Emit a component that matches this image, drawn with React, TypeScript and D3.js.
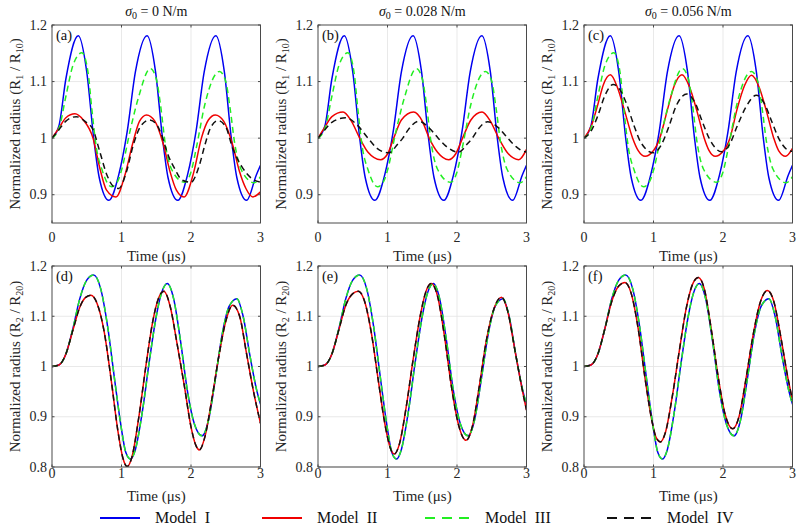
import React from 'react';
import * as d3 from 'd3';

// time axis ticks (µs) and y ticks per row
const T_TICKS = [0, 1, 2, 3];
const TOP_Y_TICKS = [0.9, 1, 1.1, 1.2];
const BOTTOM_Y_TICKS = [0.8, 0.9, 1, 1.1, 1.2];
const SIGMA_VALUES = ['0', '0.028', '0.056'];
const TOP_LABELS = ['(a)', '(b)', '(c)'];
const BOTTOM_LABELS = ['(d)', '(e)', '(f)'];
const MODEL_NAMES = ['Model  I', 'Model  II', 'Model  III', 'Model  IV'];

// R1/R10, Model I (same in a, b, c)
const r1ModelI: [number, number][] = [
  [0, 1.0], [0.1, 1.022], [0.2, 1.105], [0.378, 1.181], [0.5, 1.117], [0.6, 1.0], [0.68, 0.93],
  [0.818, 0.89], [0.96, 0.935], [1.08, 1.01], [1.2, 1.117], [1.368, 1.181], [1.49, 1.117],
  [1.59, 1.0], [1.67, 0.93], [1.81, 0.89], [1.95, 0.935], [2.07, 1.01], [2.19, 1.117],
  [2.358, 1.181], [2.48, 1.117], [2.58, 1.0], [2.66, 0.93], [2.8, 0.89], [2.94, 0.935], [3.0, 0.952],
];

// R1/R10, Model III (same in a, b, c)
const r1ModelIII: [number, number][] = [
  [0, 1.0], [0.1, 1.017], [0.2, 1.074], [0.3, 1.128], [0.43, 1.151], [0.52, 1.115], [0.57, 1.055],
  [0.64, 0.982], [0.72, 0.944], [0.856, 0.914], [0.95, 0.925], [1.0, 0.943], [1.12, 1.011],
  [1.24, 1.07], [1.416, 1.123], [1.5, 1.105], [1.56, 1.06], [1.63, 0.99], [1.72, 0.945],
  [1.907, 0.922], [2.0, 0.94], [2.08, 0.985], [2.2, 1.06], [2.41, 1.118], [2.5, 1.1], [2.56, 1.055],
  [2.63, 0.99], [2.72, 0.945], [2.91, 0.921], [3.0, 0.932],
];

// R1/R10, Model II per surface tension
const r1ModelIIa: [number, number][] = [
  [0, 1.0], [0.1, 1.018], [0.2, 1.036], [0.33, 1.043], [0.45, 1.032], [0.59, 1.0], [0.69, 0.946],
  [0.785, 0.908], [0.92, 0.896], [1.05, 0.935], [1.16, 0.99], [1.26, 1.03], [1.36, 1.041],
  [1.48, 1.03], [1.6, 0.99], [1.7, 0.94], [1.79, 0.908], [1.9, 0.896], [2.04, 0.94], [2.15, 1.0],
  [2.25, 1.032], [2.35, 1.041], [2.47, 1.03], [2.6, 0.988], [2.7, 0.94], [2.79, 0.911],
  [2.89, 0.896], [3.0, 0.905],
];
const r1ModelIIb: [number, number][] = [
  [0, 1.0], [0.1, 1.02], [0.2, 1.038], [0.36, 1.046], [0.48, 1.03], [0.6, 1.0], [0.72, 0.975],
  [0.9, 0.962], [1.0, 0.972], [1.09, 1.0], [1.2, 1.032], [1.375, 1.046], [1.5, 1.03], [1.6, 1.0],
  [1.72, 0.975], [1.88, 0.962], [1.98, 0.972], [2.08, 1.0], [2.2, 1.032], [2.36, 1.046],
  [2.48, 1.03], [2.6, 1.0], [2.72, 0.975], [2.89, 0.962], [3.0, 0.98],
];
const r1ModelIIc: [number, number][] = [
  [0, 1.0], [0.1, 1.02], [0.2, 1.06], [0.28, 1.095], [0.38, 1.112], [0.48, 1.09], [0.58, 1.05],
  [0.7, 1.0], [0.78, 0.978], [0.88, 0.968], [0.98, 0.975], [1.09, 1.0], [1.2, 1.05], [1.3, 1.093],
  [1.41, 1.112], [1.52, 1.09], [1.62, 1.05], [1.73, 1.0], [1.8, 0.978], [1.89, 0.968],
  [1.99, 0.975], [2.1, 1.0], [2.2, 1.05], [2.31, 1.093], [2.41, 1.111], [2.52, 1.09],
  [2.62, 1.05], [2.73, 1.0], [2.8, 0.978], [2.9, 0.968], [3.0, 0.982],
];

// R1/R10, Model IV per surface tension
const r1ModelIVa: [number, number][] = [
  [0, 1.0], [0.1, 1.015], [0.2, 1.03], [0.35, 1.038], [0.47, 1.03], [0.59, 1.015], [0.69, 0.975],
  [0.79, 0.935], [0.88, 0.915], [0.96, 0.911], [1.07, 0.94], [1.17, 0.988], [1.27, 1.02],
  [1.4, 1.032], [1.5, 1.025], [1.57, 1.008], [1.67, 0.97], [1.77, 0.945], [1.87, 0.926],
  [2.0, 0.922], [2.12, 0.952], [2.2, 0.988], [2.28, 1.018], [2.39, 1.031], [2.5, 1.02],
  [2.6, 0.982], [2.72, 0.952], [2.87, 0.929], [3.0, 0.922],
];
const r1ModelIVb: [number, number][] = [
  [0, 1.0], [0.1, 1.015], [0.2, 1.028], [0.4, 1.036], [0.55, 1.025], [0.72, 1.0], [0.85, 0.982],
  [1.02, 0.974], [1.15, 0.99], [1.22, 1.0], [1.3, 1.015], [1.45, 1.03], [1.6, 1.018], [1.73, 1.0],
  [1.85, 0.985], [2.02, 0.975], [2.15, 0.99], [2.22, 1.0], [2.3, 1.015], [2.44, 1.029],
  [2.6, 1.018], [2.73, 1.0], [2.85, 0.985], [2.99, 0.976], [3.0, 0.976],
];
const r1ModelIVc: [number, number][] = [
  [0, 1.0], [0.1, 1.012], [0.2, 1.04], [0.3, 1.075], [0.42, 1.095], [0.52, 1.085], [0.62, 1.058],
  [0.72, 1.022], [0.82, 0.992], [1.0, 0.974], [1.12, 0.99], [1.22, 1.02], [1.33, 1.058],
  [1.48, 1.078], [1.6, 1.062], [1.7, 1.03], [1.8, 1.0], [1.98, 0.976], [2.1, 0.99], [2.2, 1.02],
  [2.33, 1.055], [2.48, 1.076], [2.6, 1.06], [2.7, 1.03], [2.8, 1.0], [2.98, 0.977], [3.0, 0.977],
];

// R2/R20, Models I and III coincide (same in d, e, f)
const r2ModelI: [number, number][] = [
  [0, 1.0], [0.1, 1.003], [0.2, 1.025], [0.3, 1.075], [0.4, 1.135], [0.5, 1.172], [0.6, 1.182],
  [0.7, 1.155], [0.8, 1.08], [0.9, 0.975], [1.0, 0.875], [1.06, 0.83], [1.13, 0.816],
  [1.2, 0.835], [1.3, 0.91], [1.4, 1.01], [1.5, 1.1], [1.58, 1.148], [1.66, 1.165],
  [1.75, 1.135], [1.85, 1.05], [1.95, 0.95], [2.05, 0.885], [2.16, 0.862], [2.25, 0.892],
  [2.35, 0.975], [2.45, 1.065], [2.55, 1.12], [2.66, 1.135], [2.75, 1.1], [2.85, 1.02],
  [2.95, 0.95], [3.0, 0.925],
];
const r2ModelIII = r2ModelI;

// R2/R20, Models II and IV coincide, per surface tension
const r2ModelIId: [number, number][] = [
  [0, 1.0], [0.1, 1.003], [0.2, 1.025], [0.3, 1.072], [0.4, 1.118], [0.48, 1.137], [0.56, 1.142],
  [0.65, 1.125], [0.75, 1.07], [0.85, 0.975], [0.95, 0.87], [1.02, 0.818], [1.08, 0.801],
  [1.15, 0.82], [1.25, 0.9], [1.35, 1.0], [1.45, 1.09], [1.53, 1.135], [1.61, 1.15], [1.7, 1.12],
  [1.8, 1.045], [1.9, 0.965], [2.0, 0.88], [2.07, 0.843], [2.12, 0.834], [2.2, 0.86],
  [2.3, 0.935], [2.4, 1.02], [2.5, 1.09], [2.6, 1.122], [2.7, 1.1], [2.8, 1.025], [2.9, 0.95],
  [3.0, 0.887],
];
const r2ModelIIe: [number, number][] = [
  [0, 1.0], [0.1, 1.003], [0.2, 1.025], [0.3, 1.073], [0.4, 1.122], [0.5, 1.145], [0.58, 1.15],
  [0.67, 1.13], [0.77, 1.065], [0.87, 0.97], [0.97, 0.88], [1.04, 0.838], [1.1, 0.826],
  [1.17, 0.845], [1.27, 0.92], [1.37, 1.015], [1.47, 1.1], [1.55, 1.148], [1.63, 1.165],
  [1.72, 1.14], [1.82, 1.06], [1.92, 0.96], [2.02, 0.885], [2.13, 0.853], [2.22, 0.88],
  [2.32, 0.96], [2.42, 1.05], [2.52, 1.11], [2.64, 1.138], [2.73, 1.11], [2.83, 1.035],
  [2.93, 0.96], [3.0, 0.913],
];
const r2ModelIIf: [number, number][] = [
  [0, 1.0], [0.1, 1.003], [0.2, 1.025], [0.3, 1.075], [0.4, 1.13], [0.5, 1.16], [0.59, 1.167],
  [0.68, 1.145], [0.78, 1.075], [0.88, 0.975], [0.98, 0.89], [1.04, 0.858], [1.1, 0.85],
  [1.17, 0.868], [1.27, 0.94], [1.37, 1.03], [1.47, 1.115], [1.56, 1.163], [1.645, 1.177],
  [1.73, 1.155], [1.83, 1.075], [1.93, 0.98], [2.03, 0.905], [2.14, 0.876], [2.23, 0.9],
  [2.33, 0.975], [2.43, 1.06], [2.53, 1.125], [2.64, 1.151], [2.73, 1.13], [2.83, 1.06],
  [2.93, 0.98], [3.0, 0.933],
];

const FONT = "'Liberation Serif', 'Times New Roman', 'DejaVu Serif', serif";
const STYLES = [
  { color: '#0000f0', dash: undefined as string | undefined },
  { color: '#f00000', dash: undefined as string | undefined },
  { color: '#22ee22', dash: '6,4' },
  { color: '#111111', dash: '6,4' },
];
const COL_X = [52, 318, 584];
const PLOT_W = 208.5;

type Series = [number, number][];

function Panel(props: {
  x: number; y: number; h: number; domain: [number, number]; yTicks: number[];
  series: Series[]; label: string; sub: string; tickGap: number; xLabelGap: number;
}) {
  const { x, y, h, domain, yTicks, series, label, sub, tickGap, xLabelGap } = props;
  const xs = d3.scaleLinear().domain([0, 3]).range([0, PLOT_W]);
  const ys = d3.scaleLinear().domain(domain).range([h, 0]);
  const line = d3.line<[number, number]>()
    .x(d => xs(d[0]))
    .y(d => ys(d[1]))
    .curve(d3.curveMonotoneX);
  const clipId = `clip-${label.replace(/[()]/g, '')}`;

  return (
    <g transform={`translate(${x},${y})`}>
      <defs>
        <clipPath id={clipId}>
          <rect x={0} y={0} width={PLOT_W} height={h} />
        </clipPath>
      </defs>
      <rect x={0} y={0} width={PLOT_W} height={h} fill="#fff" />
      {T_TICKS.slice(1, -1).map(t => (
        <line key={`gx${t}`} x1={xs(t)} x2={xs(t)} y1={0} y2={h} stroke="#e3e3e3" strokeWidth={0.8} />
      ))}
      {yTicks.filter(v => v !== domain[1]).map(v => (
        <line key={`gy${v}`} x1={0} x2={PLOT_W} y1={ys(v)} y2={ys(v)} stroke="#e3e3e3" strokeWidth={0.8} />
      ))}
      <g clipPath={`url(#${clipId})`}>
        {series.map((s, i) => (
          <path
            key={i}
            d={line(s) || ''}
            fill="none"
            stroke={STYLES[i].color}
            strokeWidth={1.5}
            strokeDasharray={STYLES[i].dash}
          />
        ))}
      </g>
      <rect x={0} y={0} width={PLOT_W} height={h} fill="none" stroke="#4a4a4a" strokeWidth={1} />
      {T_TICKS.map(t => (
        <g key={`tx${t}`}>
          <line x1={xs(t)} x2={xs(t)} y1={h} y2={h - 2.5} stroke="#4a4a4a" />
          <line x1={xs(t)} x2={xs(t)} y1={0} y2={2.5} stroke="#4a4a4a" />
          <text x={xs(t)} y={h + tickGap} textAnchor="middle" style={{ fontFamily: FONT, fontSize: '14px' }} fill="#262626">{t}</text>
        </g>
      ))}
      {yTicks.map(v => (
        <g key={`ty${v}`}>
          <line x1={0} x2={2.5} y1={ys(v)} y2={ys(v)} stroke="#4a4a4a" />
          <line x1={PLOT_W} x2={PLOT_W - 2.5} y1={ys(v)} y2={ys(v)} stroke="#4a4a4a" />
          <text x={-5} y={ys(v) + 4.5} textAnchor="end" style={{ fontFamily: FONT, fontSize: '14px' }} fill="#262626">{String(v)}</text>
        </g>
      ))}
      <text x={4} y={15} style={{ fontFamily: FONT, fontSize: '14.5px' }} fill="#111">{label}</text>
      <text x={PLOT_W / 2} y={h + xLabelGap} textAnchor="middle" style={{ fontFamily: FONT, fontSize: '15px' }} fill="#262626">Time (μs)</text>
      <text
        transform={`translate(-32,${h / 2}) rotate(-90)`}
        textAnchor="middle"
        style={{ fontFamily: FONT, fontSize: '15px' }}
        fill="#262626"
      >
        Normalized radius (R<tspan dy={3} style={{ fontSize: '10px' }}>{sub}</tspan>
        <tspan dy={-3}> / R</tspan><tspan dy={3} style={{ fontSize: '10px' }}>{sub}0</tspan>
        <tspan dy={-3}>)</tspan>
      </text>
    </g>
  );
}

export default function App() {
  const topSeries: Series[][] = [
    [r1ModelI, r1ModelIIa, r1ModelIII, r1ModelIVa],
    [r1ModelI, r1ModelIIb, r1ModelIII, r1ModelIVb],
    [r1ModelI, r1ModelIIc, r1ModelIII, r1ModelIVc],
  ];
  const bottomSeries: Series[][] = [
    [r2ModelI, r2ModelIId, r2ModelIII, r2ModelIId],
    [r2ModelI, r2ModelIIe, r2ModelIII, r2ModelIIe],
    [r2ModelI, r2ModelIIf, r2ModelIII, r2ModelIIf],
  ];
  const legendX = [100, 262, 425, 607];

  return (
    <svg
      width={798}
      height={531}
      style={{ position: 'absolute', left: 0, top: 0, background: '#fff', fontFamily: FONT }}
    >
      <rect width={798} height={531} fill="#fff" />
      {SIGMA_VALUES.map((s, i) => (
        <text key={s} x={COL_X[i] + PLOT_W / 2} y={16} textAnchor="middle" style={{ fontFamily: FONT, fontSize: '14px' }} fill="#111">
          <tspan fontStyle="italic">σ</tspan>
          <tspan dy={3} style={{ fontSize: '10px' }}>0</tspan>
          <tspan dy={-3}>{` = ${s} N/m`}</tspan>
        </text>
      ))}
      {topSeries.map((series, i) => (
        <Panel
          key={`top${i}`}
          x={COL_X[i]}
          y={25}
          h={198}
          domain={[0.85, 1.2]}
          yTicks={TOP_Y_TICKS}
          series={series}
          label={TOP_LABELS[i]}
          sub="1"
          tickGap={19}
          xLabelGap={38}
        />
      ))}
      {bottomSeries.map((series, i) => (
        <Panel
          key={`bot${i}`}
          x={COL_X[i]}
          y={266}
          h={201}
          domain={[0.8, 1.2]}
          yTicks={BOTTOM_Y_TICKS}
          series={series}
          label={BOTTOM_LABELS[i]}
          sub="2"
          tickGap={11}
          xLabelGap={34}
        />
      ))}
      {MODEL_NAMES.map((name, i) => (
        <g key={name}>
          <line
            x1={legendX[i]}
            x2={legendX[i] + (STYLES[i].dash ? 46 : 40)}
            y1={518}
            y2={518}
            stroke={STYLES[i].color}
            strokeWidth={2}
            strokeDasharray={STYLES[i].dash ? '10,7' : undefined}
          />
          <text
            x={legendX[i] + (STYLES[i].dash ? 60 : 55)}
            y={523}
            style={{ fontFamily: FONT, fontSize: '16px', whiteSpace: 'pre' }}
            fill="#111"
          >
            {name}
          </text>
        </g>
      ))}
    </svg>
  );
}
